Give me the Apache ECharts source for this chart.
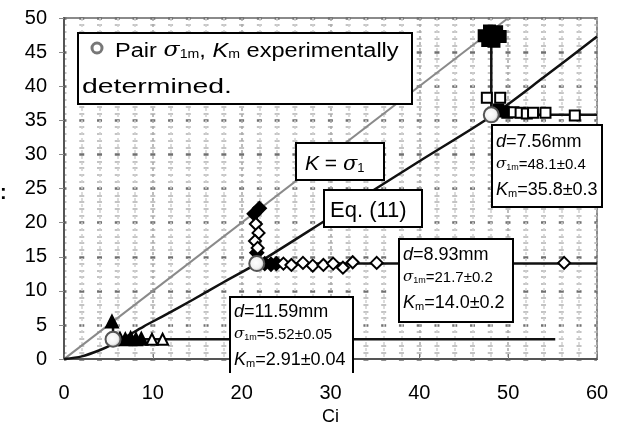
<!DOCTYPE html>
<html><head><meta charset="utf-8">
<script src="https://cdn.jsdelivr.net/npm/echarts@6.0.0/dist/echarts.min.js"></script>
<style>html,body{margin:0;padding:0;background:#fff}#c{width:621px;height:431px}</style>
</head><body><div id="c"></div>
<script>
// ---- data ----
const xTickLabels = ['0','10','20','30','40','50','60'];
const yTickLabels = ['0','5','10','15','20','25','30','35','40','45','50'];
const identityLine = [[0,0],[50,50]];
const eq11Curve = [[0,0],[2,0.4],[4,1.3],[5.52,2.2],[7,3.3],[9,4.8],[11,6.2],[14.5,8.7],[18,11.3],[21.7,14.0],[30,20.8],[40,29.0],[48.1,35.6],[54,41.3],[60,47.3]];
const sigma1m = [5.52, 21.7, 48.1];
const Km = [2.91, 14.0, 35.8];
const hLineEnd = [55.3, 60, 60];
const vLineTop = [5.4, 21.8, 47.3];
const triFilled = [[5.4,5.5],[6.3,3.0],[6.9,2.9],[7.5,3.1],[8.1,2.9],[8.7,3.0]];
const triHollow = [[9.9,2.9],[11.1,2.9]];
const diaFilled = [[21.4,21.3],[22.0,22.1],[21.7,15.6],[22.6,14.0],[23.3,13.9],[23.9,14.0]];
const diaHollow = [[21.6,19.8],[21.9,18.5],[21.5,17.3],[21.8,16.3],[24.7,14.0],[25.6,13.8],[26.9,14.1],[28.0,13.7],[29.2,13.8],[30.3,14.0],[31.4,13.4],[32.5,14.2],[35.2,14.1],[56.3,14.1]];
const sqHollow = [[47.6,38.3],[49.1,38.3],[49.9,36.1],[50.6,36.2],[51.4,36.1],[52.1,36.0],[52.8,36.1],[54.2,36.1],[57.5,35.7]];
const sqFilled = [[48.9,36.6],[49.5,36.3]];
const topFilled = [[47.3,47.4],[47.9,48.1],[48.7,48.0],[49.1,47.3],[48.4,46.6],[47.7,46.7]];

// ---- chart ----
const FF = '"Liberation Sans", Arial, sans-serif';
const chart = echarts.init(document.getElementById('c'), null, {renderer:'canvas'});
const lineS = (data, color, width, z) => ({type:'line', data, symbol:'none', lineStyle:{color, width}, z: z||2, silent:true, animation:false});
const markS = (data, symbol, size, fill, z) => ({type:'scatter', data, symbol, symbolSize:size, itemStyle:{color:fill, borderColor:'#000', borderWidth:2, opacity:1}, z: z||4, silent:true, animation:false});

const series = [
  lineS(identityLine, '#8a8a8a', 2, 2),
  Object.assign(lineS(eq11Curve, '#111', 2.5, 3), {smooth:0.3}),
];
sigma1m.forEach((s,i) => {
  series.push(lineS([[s,Km[i]],[hLineEnd[i],Km[i]]], '#111', 2.5, 3));
  series.push(lineS([[s,Km[i]],[s,vLineTop[i]]], '#111', 2.5, 3));
});
series.push(markS(triFilled,'triangle',12,'#000'));
series.push(markS(triHollow,'triangle',11,'#fff'));
series.push(markS(diaFilled,'diamond',13,'#000'));
series.push(markS(diaHollow,'diamond',12,'#fff'));
series.push(markS(sqHollow,'rect',10,'#fff'));
series.push(markS(sqFilled,'rect',10,'#000'));
series.push(markS(topFilled,'rect',11,'#000'));
series.push({type:'scatter', data: sigma1m.map((s,i)=>[s,Km[i]]), symbol:'circle', symbolSize:15, z:6, silent:true, animation:false,
  itemStyle:{color:{type:'radial',x:0.45,y:0.45,r:0.6,colorStops:[{offset:0,color:'#fff'},{offset:0.55,color:'#f2f2f2'},{offset:1,color:'#9a9a9a'}]}, borderColor:'#555', borderWidth:2, opacity:1}});

const T = (x,y,text,rich,extra) => Object.assign({type:'text', x, y, z:101, style:{text, rich, fill:'#000', font:'18px '+FF}}, extra||{});
const boxRect = (x,y,w,h) => ({type:'rect', z:100, shape:{x,y,width:w,height:h}, style:{fill:'#fff', stroke:'#000', lineWidth:2}});

const richBase = (size) => ({
  n:{fontSize:size, fontFamily:FF, fill:'#000', color:'#000', lineHeight:size+4, verticalAlign:'bottom'},
  i:{fontSize:size, fontFamily:FF, fontStyle:'italic', fill:'#000', color:'#000', lineHeight:size+4, verticalAlign:'bottom'},
  g:{fontSize:size, fontFamily:'"DejaVu Serif", serif', fontStyle:'italic', fill:'#000', color:'#000', lineHeight:size+4, verticalAlign:'bottom'},
  sub:{fontSize:Math.round(size*0.62), fontFamily:FF, fill:'#000', color:'#000', lineHeight:Math.round(size*0.62)+1, verticalAlign:'bottom'}
});

const boxLines = (x, y, d, sig, km) => [
  T(x, y, '{i|d}{n|=' + d + 'mm}', richBase(18)),
  T(x, y+24, '{g|σ}{sub|1m}{n|=' + sig + '}', richBase(15)),
  T(x, y+48, '{i|K}{sub|m}{n|=' + km + '}', richBase(18)),
];

const graphic = [
  // legend box
  boxRect(78,33,334,71),
  {type:'circle', z:101, shape:{cx:97, cy:48, r:5}, style:{fill:'#fff', stroke:'#777', lineWidth:3}},
  T(115, 37, '{n|Pair }{g|σ}{sub|1m}{n|, }{i|K}{sub|m}{n| experimentally}', richBase(20), {scaleX:1.18}),
  T(82, 73, '{n|determined.}', richBase(20), {scaleX:1.42}),
  // K = sigma1
  boxRect(296,143,88,37),
  T(305, 150, '{i|K}{n| = }{g|σ}{sub|1}', richBase(21)),
  // Eq. (11)
  boxRect(324,190,98,37),
  T(330, 196, '{n|Eq. (11)}', richBase(22)),
  // d=7.56
  boxRect(492,125,110,82),
  ...boxLines(496, 129, '7.56', '48.1±0.4', '35.8±0.3'),
  // d=8.93
  boxRect(399,239,114,83),
  ...boxLines(403, 242, '8.93', '21.7±0.2', '14.0±0.2'),
  // d=11.59
  {type:'rect', z:100, shape:{x:230,y:297,width:123,height:76}, style:{fill:'#fff', stroke:null}},
  {type:'polyline', z:100, shape:{points:[[230,373],[230,297],[353,297],[353,373]]}, style:{fill:null, stroke:'#000', lineWidth:2}},
  ...boxLines(234, 299, '11.59', '5.52±0.05', '2.91±0.04'),
  // cut-off axis title fragment
  {type:'text', x:0, y:183, z:101, style:{text:':', font:'bold 20px '+FF, fill:'#000'}},
];

chart.setOption({
  animation:false,
  backgroundColor:'#fff',
  grid:{left:64, right:24, top:18, bottom:63, show:true, borderColor:'#8a8a8a', borderWidth:2, backgroundColor:'transparent'},
  xAxis:{type:'value', min:0, max:60, interval:10,
    axisLine:{show:true, onZero:false, lineStyle:{color:'#555', width:2}},
    axisTick:{show:true, inside:true, length:5, lineStyle:{color:'#777'}},
    axisLabel:{fontSize:20, fontFamily:FF, color:'#000', margin:24, formatter:(v)=>xTickLabels[Math.round(v/10)]},
    splitLine:{show:true, lineStyle:{color:'#a8a8a8', width:1.5, type:[3,3]}},
    minorTick:{show:false, splitNumber:5},
    minorSplitLine:{show:true, lineStyle:{color:'#cfcfcf', width:1.5, type:[3,3]}},
    name:'Ci', nameLocation:'middle', nameGap:43, nameTextStyle:{fontSize:18, fontFamily:FF, color:'#000'}
  },
  yAxis:{type:'value', min:0, max:50, interval:5,
    axisLine:{show:true, onZero:false, lineStyle:{color:'#555', width:2}},
    axisTick:{show:true, length:5, lineStyle:{color:'#888'}},
    axisLabel:{fontSize:20, fontFamily:FF, color:'#000', margin:17, formatter:(v)=>yTickLabels[Math.round(v/5)]},
    splitLine:{show:true, lineStyle:{color:'#707070', width:2.5, type:[5,12.76], dashOffset:2.5}},
    minorTick:{show:false, splitNumber:5},
    minorSplitLine:{show:true, lineStyle:{color:'#c4c4c4', width:2, type:[5,12.76], dashOffset:2.5}}
  },
  series,
  graphic
});
</script></body></html>
